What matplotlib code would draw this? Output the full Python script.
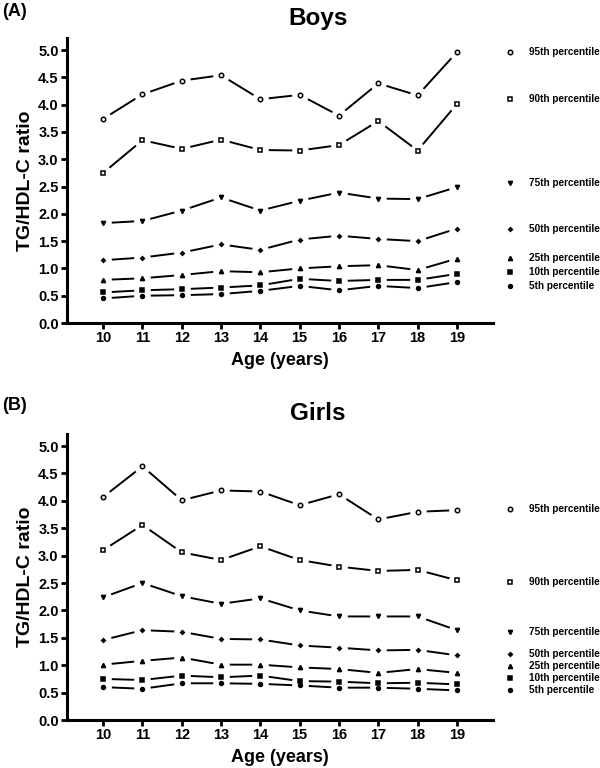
import matplotlib
matplotlib.use("Agg")
import matplotlib.pyplot as plt

# Age groups (years)
ages = [10, 11, 12, 13, 14, 15, 16, 17, 18, 19]
percentiles = ["95th", "90th", "75th", "50th", "25th", "10th", "5th"]

# Boys TG/HDL-C ratio by percentile
boys_p95 = [3.74, 4.19, 4.44, 4.54, 4.10, 4.18, 3.80, 4.39, 4.17, 4.96]
boys_p90 = [2.75, 3.35, 3.19, 3.36, 3.17, 3.16, 3.26, 3.70, 3.16, 4.01]
boys_p75 = [1.83, 1.87, 2.06, 2.30, 2.06, 2.24, 2.39, 2.28, 2.27, 2.49]
boys_p50 = [1.15, 1.20, 1.29, 1.44, 1.34, 1.53, 1.60, 1.54, 1.50, 1.73]
boys_p25 = [0.79, 0.82, 0.88, 0.95, 0.93, 1.00, 1.04, 1.06, 0.97, 1.18]
boys_p10 = [0.56, 0.60, 0.62, 0.65, 0.69, 0.81, 0.77, 0.79, 0.79, 0.90]
boys_p5 = [0.45, 0.50, 0.51, 0.53, 0.59, 0.68, 0.60, 0.68, 0.64, 0.75]

# Girls TG/HDL-C ratio by percentile
girls_p95 = [4.07, 4.63, 4.01, 4.19, 4.17, 3.92, 4.12, 3.66, 3.80, 3.83]
girls_p90 = [3.10, 3.56, 3.06, 2.92, 3.17, 2.92, 2.80, 2.72, 2.74, 2.55]
girls_p75 = [2.24, 2.50, 2.26, 2.12, 2.22, 2.00, 1.89, 1.89, 1.89, 1.64]
girls_p50 = [1.46, 1.64, 1.61, 1.48, 1.47, 1.36, 1.32, 1.27, 1.28, 1.18]
girls_p25 = [1.01, 1.08, 1.14, 1.01, 1.01, 0.96, 0.93, 0.86, 0.93, 0.86]
girls_p10 = [0.75, 0.73, 0.81, 0.78, 0.81, 0.71, 0.70, 0.67, 0.68, 0.65]
girls_p5 = [0.60, 0.57, 0.67, 0.67, 0.66, 0.63, 0.59, 0.59, 0.57, 0.54]

# where the side labels sit (data units on the y axis)
boys_label_y = [4.96, 4.11, 2.56, 1.72, 1.20, 0.93, 0.68]
girls_label_y = [3.86, 2.52, 1.61, 1.20, 0.98, 0.76, 0.54]

# marker styles: (marker, size, filled)
styles = [("o", 3.2, False), ("s", 3.2, False), ("v", 3.0, True),
          ("D", 1.9, True), ("^", 3.0, True), ("s", 2.8, True), ("o", 2.8, True)]

plt.rcParams["font.family"] = ["Liberation Sans", "DejaVu Sans"]
plt.rcParams["font.weight"] = "bold"


def draw_panel(fig, rect, series, label_y, title, title_y, tag, tag_y):
    ax = fig.add_axes(rect)
    for values, (mk, ms, filled) in zip(series, styles):
        ax.plot(ages, values, color="black", lw=1.4, zorder=1)
        # white halo so lines stop short of each marker
        ax.plot(ages, values, ls="none", marker="o", ms=12, mfc="white",
                mec="none", zorder=2)
        ax.plot(ages, values, ls="none", marker=mk, ms=ms,
                mfc="black" if filled else "white", mec="black", mew=1.1,
                zorder=3, clip_on=False)

    # side labels
    for name, yv, (mk, ms, filled) in zip(percentiles, label_y, styles):
        ax.plot([20.36], [yv], marker=mk, ms=ms, ls="none",
                mfc="black" if filled else "white", mec="black", mew=1.1,
                clip_on=False)
        ax.text(20.83, yv, f"{name} percentile", fontsize=7.2, fontweight="bold",
                va="center", ha="left", clip_on=False)

    ax.set_xlim(9.08, 19.92)
    ax.set_ylim(0, 5.22)
    ax.set_xticks(ages)
    ax.set_yticks([0.0, 0.5, 1.0, 1.5, 2.0, 2.5, 3.0, 3.5, 4.0, 4.5, 5.0])
    ax.set_yticklabels([f"{v:.1f}" for v in ax.get_yticks()])
    ax.spines["top"].set_visible(False)
    ax.spines["right"].set_visible(False)
    ax.spines["left"].set_linewidth(2.2)
    ax.spines["bottom"].set_linewidth(2.2)
    ax.tick_params(width=2, length=4, labelsize=10.5, pad=2)
    for lab in ax.get_xticklabels() + ax.get_yticklabels():
        lab.set_fontweight("bold")
    ax.set_xlabel("Age (years)", fontsize=13, fontweight="bold", labelpad=5)
    ax.set_ylabel("TG/HDL-C ratio", fontsize=14, fontweight="bold", labelpad=3)
    fig.text(0.53, title_y, title, fontsize=17.5, fontweight="bold",
             ha="center", va="center")
    fig.text(0.003, tag_y, tag, fontsize=13, fontweight="bold", va="center")
    return ax


fig = plt.figure(figsize=(6, 7.68), dpi=100)

boys = [boys_p95, boys_p90, boys_p75, boys_p50, boys_p25, boys_p10, boys_p5]
girls = [girls_p95, girls_p90, girls_p75, girls_p50, girls_p25, girls_p10, girls_p5]

draw_panel(fig, [0.1117, 0.5794, 0.71, 0.371], boys, boys_label_y,
           "Boys", 1 - 19 / 768, "(A)", 1 - 12 / 768)
draw_panel(fig, [0.1117, 0.0625, 0.71, 0.3724], girls, girls_label_y,
           "Girls", 1 - 413 / 768, "(B)", 1 - 405 / 768)

fig.savefig("out.png", dpi=100)
